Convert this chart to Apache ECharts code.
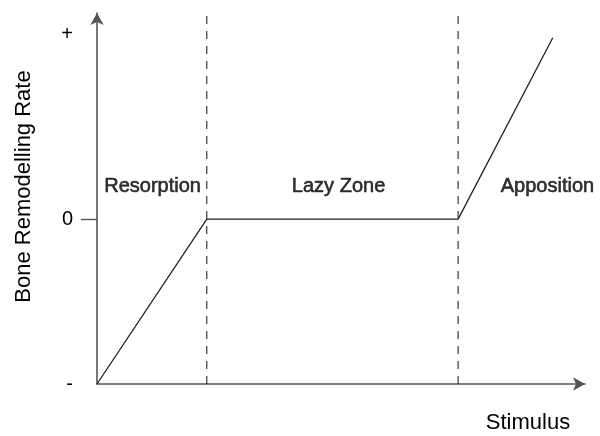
<!DOCTYPE html>
<html lang="en">
<head>
    <meta charset="UTF-8">
    <title>Bone Remodelling Rate</title>
    <style type="text/css">
        * { margin: 0; padding: 0; }
        html, body { width: 100%; height: 100%; background: #fff; }
        #chart-panel { width: 600px; height: 436px; }
    </style>
</head>
<body>

<div id="chart-panel"></div>

<script src="https://cdn.jsdelivr.net/npm/echarts@6/dist/echarts.min.js"></script>
<script>

    var myChart = echarts.init(document.getElementById('chart-panel'));
    let font = "'Liberation Sans', Arial, sans-serif";

    // remodelling curve (stimulus, rate)
    let stimulus = [0, 22.5, 74, 93.4];
    let rate = [-1, 0, 0, 1.1];

    // zone boundaries (dashed lines)
    let zoneBounds = [22.5, 74];
    let dashBottom = -1;
    let dashTop = 1.236;

    // zone names and where they sit
    let zoneNames = ['Resorption', 'Lazy Zone', 'Apposition'];
    let zoneLabelX = [11.4, 49.5, 92.3];
    let zoneLabelY = [0.2, 0.2, 0.2];

    // y tick labels
    let yTickValues = [-1, 0, 1.12];
    let yTickLabels = ['-', '0', '+'];

    let curve = stimulus.map((v, i) => [v, rate[i]]);

    let dashSeries = zoneBounds.map(b => ({
        type: 'line',
        silent: true,
        symbol: 'none',
        lineStyle: { color: '#111', width: 1, type: [8, 7] },
        data: [[b, dashBottom], [b, dashTop]]
    }));

    var option = {
        animation: false,
        grid: {
            left: 97,
            right: 15,
            top: 13,
            bottom: 52,
            outerBoundsMode: 'none',
            containLabel: false
        },
        xAxis: {
            type: 'value',
            min: 0,
            max: 100,
            name: 'Stimulus',
            nameLocation: 'end',
            nameGap: -57,
            nameTextStyle: {
                fontFamily: font,
                fontSize: 22,
                color: '#000',
                align: 'center',
                verticalAlign: 'top',
                padding: [28, 0, 0, 0]
            },
            axisLine: {
                onZero: false,
                symbol: ['none', 'arrow'],
                symbolSize: [10, 12],
                lineStyle: { color: '#555', width: 1.6 }
            },
            axisTick: { show: false },
            axisLabel: { show: false },
            splitLine: { show: false }
        },
        yAxis: {
            type: 'value',
            min: -1,
            max: 1.25,
            name: 'Bone Remodelling Rate',
            nameLocation: 'middle',
            nameRotate: 90,
            nameGap: 62,
            nameTextStyle: {
                fontFamily: font,
                fontSize: 22,
                color: '#000',
                padding: [0, 0, 0, 24]
            },
            axisLine: {
                onZero: false,
                symbol: ['none', 'arrow'],
                symbolSize: [10, 12],
                lineStyle: { color: '#555', width: 1.6 }
            },
            axisTick: {
                show: true,
                customValues: [0],
                length: 16,
                lineStyle: { color: '#555', width: 1.4 }
            },
            axisLabel: {
                customValues: yTickValues,
                margin: 24,
                fontFamily: font,
                fontSize: 20,
                color: '#000',
                formatter: function (v) {
                    let i = yTickValues.indexOf(v);
                    return i >= 0 ? yTickLabels[i] : '';
                }
            },
            splitLine: { show: false }
        },
        series: dashSeries.concat([
            {
                type: 'line',
                silent: true,
                symbol: 'none',
                lineStyle: { color: '#222', width: 1.3 },
                data: curve
            },
            {
                type: 'scatter',
                silent: true,
                symbolSize: 0,
                label: {
                    show: true,
                    position: 'inside',
                    fontFamily: font,
                    fontSize: 20,
                    color: '#000',
                    textBorderColor: '#000',
                    textBorderWidth: 0.6,
                    formatter: p => p.value[2]
                },
                data: zoneNames.map((n, i) => [zoneLabelX[i], zoneLabelY[i], n])
            }
        ])
    };
    myChart.setOption(option);
</script>
</body>
</html>
